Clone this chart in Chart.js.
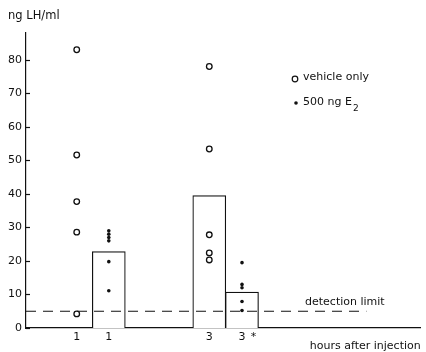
<!DOCTYPE html>
<html>
<head>
<meta charset="utf-8">
<script src="https://cdn.jsdelivr.net/npm/chart.js@4.4.0/dist/chart.umd.min.js"></script>
<style>
  html, body { margin: 0; padding: 0; background: #fff; }
  #wrap { width: 426px; height: 352px; position: relative; }
</style>
</head>
<body>
<div id="wrap"><canvas id="myChart"></canvas></div>
<script>
"use strict";

// positions of the groups on the x scale (1 unit = one bar width)
var groupX      = [1.55, 2.53, 5.6, 6.6];
var groupLabels = ['1', '1', '3', '3'];
var starX       = 6.95;

// ng LH/ml, vehicle only (open circles)
var vehicle1h = [83, 51.6, 37.7, 28.6, 4.2];
var vehicle3h = [78, 53.4, 27.8, 22.4, 20.3];

// ng LH/ml, 500 ng E2 (dots)
var e2at1h = [29, 28, 27, 26, 19.8, 11.1];
var e2at3h = [19.5, 13, 12, 7.9, 5.2];

// bars (means)
var barX     = [2.53, 5.6, 6.6];
var barMeans = [22.8, 39.5, 10.7];

var detectionLimit = 5;
var detectionEnd   = 10.4;

var yTicks = [0, 10, 20, 30, 40, 50, 60, 70, 80];

var FONT = '"DejaVu Sans", sans-serif';
var INK  = '#111';

function points(xv, values) {
    return values.map(function (v) { return { x: xv, y: v }; });
}

var extraLabels = {
    id: 'extraLabels',
    afterDraw: function (chart) {
        var ctx = chart.ctx;
        var xs = chart.scales.x, ys = chart.scales.y;

        ctx.save();
        // inward ticks on the y axis
        ctx.strokeStyle = INK;
        ctx.lineWidth = 1.2;
        yTicks.forEach(function (t) {
            var py = Math.round(ys.getPixelForValue(t)) + 0.5;
            ctx.beginPath();
            ctx.moveTo(xs.left, py);
            ctx.lineTo(xs.left + 4, py);
            ctx.stroke();
        });

        ctx.fillStyle = INK;
        ctx.textBaseline = 'middle';
        ctx.textAlign = 'left';
        ctx.font = '11.5px ' + FONT;
        ctx.fillText('ng LH/ml', 8, 16);

        // legend
        ctx.font = '11px ' + FONT;
        ctx.beginPath();
        ctx.arc(295, 79, 2.8, 0, Math.PI * 2);
        ctx.fillStyle = '#fff';
        ctx.fill();
        ctx.stroke();
        ctx.fillStyle = INK;
        ctx.fillText('vehicle only', 303, 77);

        ctx.beginPath();
        ctx.arc(296, 103, 1.8, 0, Math.PI * 2);
        ctx.fill();
        ctx.fillText('500 ng E', 303, 102);
        var w = ctx.measureText('500 ng E').width;
        ctx.font = '9px ' + FONT;
        ctx.fillText('2', 303 + w + 1, 109);

        // detection limit label
        ctx.font = '11px ' + FONT;
        ctx.fillText('detection limit', 305, 302);
        ctx.restore();
    }
};

new Chart(document.getElementById('myChart'), {
    type: 'bar',
    data: {
        datasets: [
            {
                type: 'scatter',
                label: 'vehicle only',
                data: points(groupX[0], vehicle1h).concat(points(groupX[2], vehicle3h)),
                pointRadius: 2.8,
                borderColor: INK,
                borderWidth: 1.3,
                backgroundColor: '#fff',
                order: 0
            },
            {
                type: 'scatter',
                label: '500 ng E2',
                data: points(groupX[1], e2at1h).concat(points(groupX[3], e2at3h)),
                pointRadius: 1.8,
                borderWidth: 0,
                backgroundColor: INK,
                order: 1
            },
            {
                type: 'line',
                label: 'detection limit',
                data: [{ x: 0, y: detectionLimit }, { x: detectionEnd, y: detectionLimit }],
                borderColor: INK,
                borderWidth: 1.2,
                borderDash: [10, 7],
                pointRadius: 0,
                order: 2
            },
            {
                type: 'bar',
                label: 'mean',
                data: barX.map(function (xv, i) { return { x: xv, y: barMeans[i] }; }),
                backgroundColor: '#fff',
                borderColor: INK,
                borderWidth: 1.2,
                barThickness: 33,
                order: 3
            }
        ]
    },
    options: {
        responsive: true,
        maintainAspectRatio: false,
        animation: false,
        layout: { padding: { top: 33, right: 2, left: 0, bottom: 0 } },
        plugins: {
            legend: { display: false },
            tooltip: { enabled: false }
        },
        scales: {
            x: {
                type: 'linear',
                min: 0,
                max: 12.06,
                offset: false,
                grid: { display: false, drawTicks: false, offset: false },
                border: { color: INK, width: 1.2 },
                afterBuildTicks: function (axis) {
                    axis.ticks = groupX.concat([starX]).map(function (v) { return { value: v }; });
                },
                ticks: {
                    autoSkip: false,
                    maxRotation: 0,
                    padding: 3,
                    color: INK,
                    font: { family: FONT, size: 11 },
                    callback: function (value, index) {
                        return groupLabels.concat(['*'])[index];
                    }
                },
                title: {
                    display: true,
                    text: 'hours after injection',
                    align: 'end',
                    color: INK,
                    padding: { top: 0, bottom: -1 },
                    font: { family: FONT, size: 11 }
                },
                afterFit: function (axis) { axis.height = 24; }
            },
            y: {
                min: 0,
                max: 88,
                grid: { display: false, drawTicks: false },
                border: { color: INK, width: 1.2 },
                afterBuildTicks: function (axis) {
                    axis.ticks = yTicks.map(function (v) { return { value: v }; });
                },
                ticks: {
                    padding: 4,
                    color: INK,
                    font: { family: FONT, size: 11 }
                },
                afterFit: function (axis) { axis.width = 26; }
            }
        }
    },
    plugins: [extraLabels]
});
</script>
</body>
</html>
